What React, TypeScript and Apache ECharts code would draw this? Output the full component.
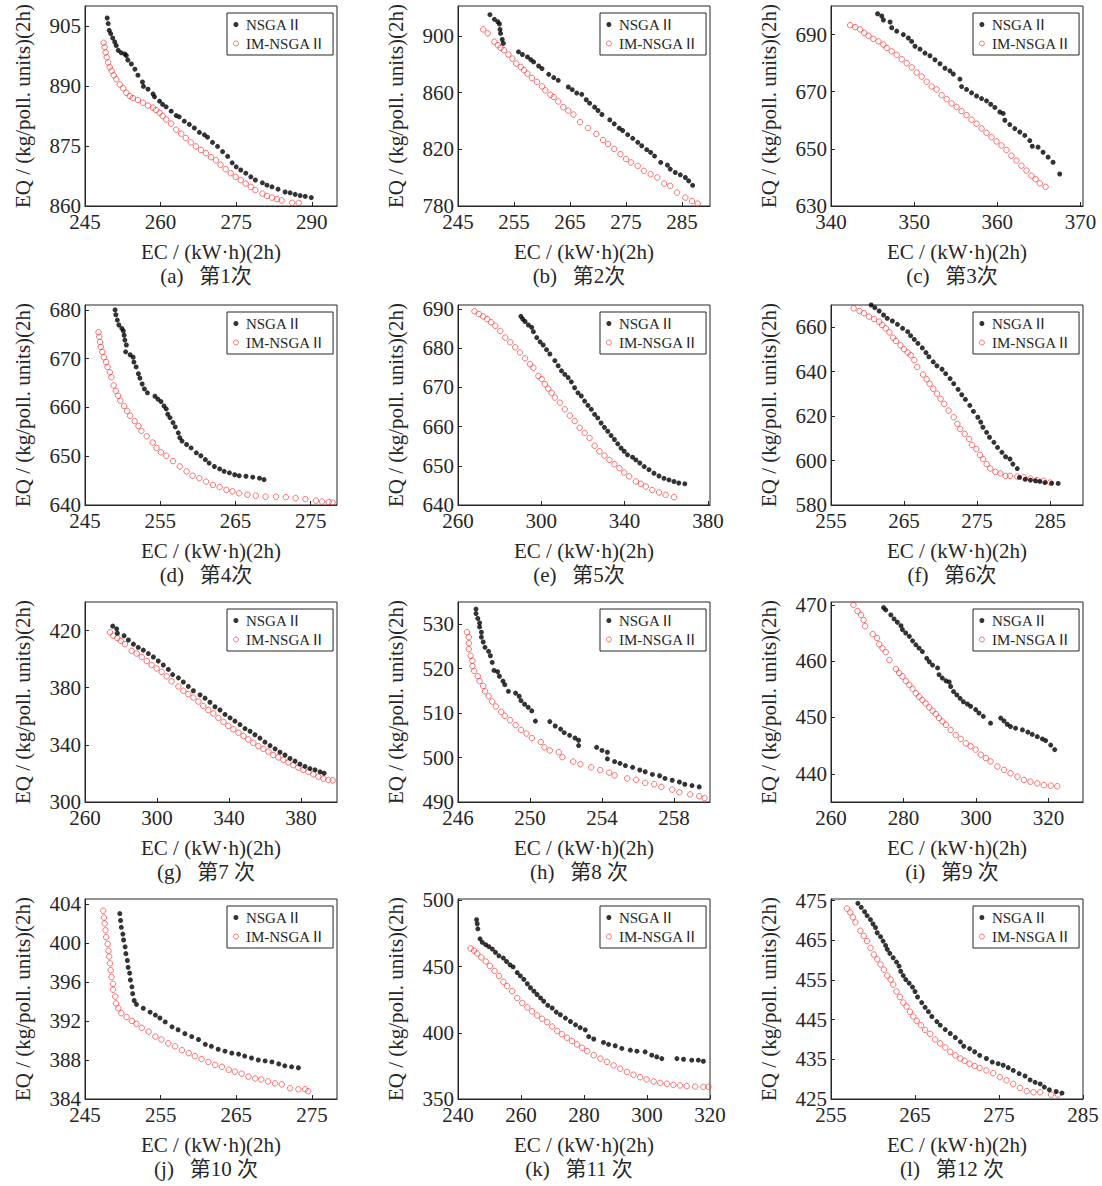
import React, { useEffect, useRef } from 'react';
import * as echarts from 'echarts';

// ---------- data (EC, EQ) ----------
const A_NSGA = [[249.4,907.0],[249.6,905.6],[249.8,903.9],[250.1,903.1],[250.5,902.0],[250.9,901.0],[251.2,900.1],[251.6,898.9],[252.2,898.3],[252.9,898.0],[253.2,897.6],[253.5,896.5],[254.2,895.5],[254.9,894.2],[255.5,892.7],[256.4,891.0],[256.6,889.9],[257.5,889.2],[258.5,888.0],[258.8,887.3],[259.8,886.2],[260.4,885.4],[261.1,884.8],[262.1,883.7],[263.1,882.6],[263.7,882.3],[264.7,881.2],[265.7,880.4],[266.7,879.5],[267.7,878.4],[268.7,877.8],[269.3,877.2],[270.3,875.9],[271.3,874.9],[272.3,873.6],[273.3,872.4],[274.2,870.8],[275.0,869.8],[275.9,869.0],[276.9,868.2],[277.9,867.3],[278.8,866.5],[280.2,865.8],[281.1,865.2],[282.1,864.8],[283.3,864.2],[284.7,863.5],[285.7,863.3],[286.7,862.9],[287.7,862.6],[288.7,862.4],[289.9,862.1]];
const A_IM = [[248.7,900.8],[248.9,899.7],[249.1,898.4],[249.3,897.2],[249.6,895.9],[249.9,894.7],[250.3,893.8],[250.7,892.7],[251.2,891.7],[251.9,890.4],[252.6,889.4],[253.2,888.3],[253.9,887.5],[254.5,887.0],[255.5,886.5],[256.5,885.8],[257.5,885.1],[258.5,884.6],[259.1,884.0],[259.8,883.3],[260.4,882.5],[261.1,881.6],[262.1,880.6],[263.1,879.1],[264.1,878.1],[265.0,877.0],[266.0,875.9],[267.0,874.9],[268.0,874.0],[269.0,873.2],[270.0,872.2],[271.0,871.4],[271.9,870.3],[272.9,869.2],[273.9,868.2],[274.9,867.3],[275.9,866.5],[276.9,865.6],[277.9,864.8],[278.8,864.0],[280.2,863.1],[281.1,862.5],[282.1,862.1],[283.1,861.7],[284.0,861.4],[286.1,860.8],[287.4,860.8]];

const B_NSGA = [[250.7,914.9],[251.5,911.6],[252.1,909.9],[252.4,908.3],[252.5,904.5],[252.6,901.7],[252.9,897.4],[253.1,894.6],[255.8,888.7],[256.5,886.8],[257.4,885.1],[258.0,883.2],[258.5,881.6],[259.4,878.7],[260.0,876.9],[261.2,872.8],[262.1,870.5],[262.9,868.6],[264.7,863.9],[265.4,862.0],[266.2,859.6],[267.1,858.7],[267.9,854.9],[268.5,852.5],[269.4,849.7],[270.0,847.3],[270.7,844.5],[272.1,840.7],[272.9,837.9],[273.8,834.8],[274.4,833.2],[275.3,830.3],[276.2,827.7],[277.1,824.9],[277.8,822.5],[278.7,819.7],[279.4,817.8],[280.1,815.2],[281.2,810.7],[282.4,808.8],[282.9,806.0],[283.8,803.6],[284.7,802.0],[285.6,800.1],[286.2,797.7],[286.9,794.6]];
const B_IM = [[249.5,904.5],[250.3,901.7],[251.5,895.8],[252.1,893.4],[252.6,891.5],[253.2,889.9],[254.0,886.8],[254.7,883.9],[255.4,880.4],[256.2,878.0],[256.8,875.7],[257.4,873.3],[258.2,870.2],[259.1,867.4],[260.0,864.3],[260.6,861.5],[261.5,858.4],[262.1,856.8],[262.9,853.7],[263.8,849.7],[264.7,847.3],[265.6,844.5],[266.8,839.1],[268.2,835.0],[269.7,830.8],[270.9,826.5],[271.8,823.7],[272.9,820.2],[274.0,816.6],[275.0,813.1],[275.9,810.7],[277.1,808.3],[278.2,804.8],[279.4,802.4],[280.6,800.1],[281.8,795.8],[282.9,794.2],[284.1,789.4],[285.6,785.9],[286.8,783.5],[287.8,781.7]];

const C_NSGA = [[345.6,697.3],[346.1,696.5],[346.3,695.1],[347.1,694.4],[347.3,692.4],[347.9,691.2],[348.7,690.0],[349.3,688.8],[349.7,687.6],[350.1,685.9],[350.7,684.9],[351.3,683.5],[351.9,682.6],[352.5,681.2],[353.1,679.8],[353.7,678.2],[354.3,677.3],[354.7,676.2],[355.5,674.4],[355.7,671.8],[356.3,670.8],[356.9,669.6],[357.5,668.5],[358.1,667.6],[358.7,666.8],[359.2,665.6],[359.7,664.5],[360.3,662.9],[360.7,662.4],[360.9,660.0],[361.5,658.5],[362.1,657.1],[362.7,655.9],[363.3,654.7],[363.9,652.9],[364.2,650.9],[364.9,650.6],[365.5,648.8],[366.1,647.1],[366.7,645.3],[367.5,641.2]];
const C_IM = [[342.3,693.3],[342.9,692.6],[343.5,691.8],[344.0,690.6],[344.5,689.6],[345.1,688.5],[345.7,687.6],[346.3,686.5],[346.7,685.3],[347.3,684.1],[347.9,682.9],[348.5,681.4],[349.1,680.0],[349.7,678.5],[350.3,676.7],[350.9,675.3],[351.5,673.5],[352.1,671.8],[352.7,670.8],[353.3,668.8],[353.9,667.4],[354.5,665.9],[355.1,664.7],[355.7,663.2],[356.3,661.8],[356.9,660.2],[357.5,658.8],[358.1,657.1],[358.7,655.6],[359.3,654.1],[359.9,652.6],[360.5,651.2],[361.1,649.6],[361.7,647.6],[362.3,645.9],[362.9,644.1],[363.5,642.4],[364.1,640.6],[364.6,639.4],[365.1,637.9],[365.8,636.7]];

const D_NSGA = [[249.0,680.0],[249.1,679.0],[249.3,677.9],[249.5,676.9],[249.9,676.2],[250.1,675.7],[250.2,674.8],[250.3,673.8],[250.5,672.8],[250.4,671.4],[251.0,670.8],[251.4,670.3],[251.5,669.3],[251.8,668.3],[252.1,666.9],[252.3,666.0],[252.6,664.8],[252.9,663.8],[253.3,663.0],[254.3,662.3],[254.7,661.7],[255.1,661.2],[255.5,660.3],[255.8,659.7],[256.0,658.6],[256.3,657.9],[256.7,656.9],[257.0,656.0],[257.4,654.8],[257.6,653.8],[257.9,653.1],[258.5,652.4],[259.1,651.7],[259.8,650.7],[260.4,650.1],[261.0,649.3],[261.5,648.6],[262.2,647.9],[262.9,647.4],[263.5,646.9],[264.2,646.6],[264.9,646.2],[265.5,646.0],[266.4,645.9],[267.3,645.7],[268.2,645.5],[268.8,645.2]];
const D_IM = [[246.8,675.4],[246.9,674.5],[247.0,673.4],[247.1,672.4],[247.3,671.4],[247.5,670.3],[247.8,669.3],[248.0,668.3],[248.3,667.2],[248.5,666.2],[248.8,664.5],[249.1,663.4],[249.4,662.4],[249.7,661.4],[250.2,660.3],[250.6,659.3],[251.0,658.3],[251.6,657.2],[252.1,656.2],[252.5,655.2],[253.2,654.1],[254.0,652.8],[254.5,651.7],[255.1,650.8],[255.8,650.1],[256.7,649.0],[257.6,647.9],[258.5,646.9],[259.3,646.0],[260.2,645.5],[261.1,644.8],[262.0,644.1],[262.9,643.7],[263.8,643.1],[264.6,642.8],[265.5,642.4],[266.6,642.1],[267.7,641.9],[269.0,641.7],[270.4,641.7],[271.7,641.6],[273.0,641.4],[274.3,641.2],[275.7,640.9],[276.5,640.7],[277.4,640.6],[277.9,640.5]];

const E_NSGA = [[290.2,688.1],[291.1,687.4],[292.2,686.8],[293.8,685.9],[295.4,685.3],[296.2,684.2],[297.8,682.7],[299.4,681.6],[300.9,680.8],[302.5,679.6],[304.1,678.5],[306.5,676.8],[308.1,675.5],[309.7,674.2],[311.3,673.3],[312.9,672.5],[314.4,671.4],[316.0,669.9],[317.6,668.6],[319.2,667.8],[320.8,666.5],[322.4,665.4],[324.0,664.4],[325.6,663.1],[327.1,662.2],[328.7,660.9],[330.3,659.8],[331.9,658.8],[333.5,657.7],[335.1,656.7],[336.7,655.6],[338.3,654.5],[339.8,653.7],[341.4,652.8],[343.8,652.2],[345.4,651.5],[347.3,650.7],[349.4,649.8],[351.7,649.0],[354.1,648.1],[356.5,647.4],[358.9,646.8],[361.3,646.4],[363.7,646.0],[366.0,645.6],[368.9,645.4]];
const E_IM = [[267.9,689.4],[270.0,688.7],[272.1,688.1],[274.0,687.4],[275.9,686.6],[277.9,685.7],[280.3,684.4],[282.7,682.7],[285.1,681.5],[287.5,680.2],[289.8,678.9],[292.2,677.4],[294.6,675.9],[296.2,675.0],[298.6,672.9],[300.2,672.1],[301.7,670.8],[303.3,669.7],[304.9,668.6],[306.5,667.4],[308.9,666.1],[311.3,664.4],[313.7,662.8],[316.0,661.4],[318.4,659.7],[320.8,658.4],[323.2,657.1],[325.6,655.1],[327.9,653.7],[330.3,652.6],[332.7,651.5],[335.1,650.4],[337.5,649.4],[339.8,648.3],[342.2,647.3],[345.4,646.0],[347.8,645.4],[350.2,644.7],[353.3,643.8],[356.5,643.2],[359.7,642.6],[363.7,642.0]];

const F_NSGA = [[260.5,670.0],[261.0,668.8],[261.6,667.3],[262.2,665.5],[262.7,664.0],[263.4,662.8],[264.1,661.3],[264.8,659.5],[265.5,658.0],[265.9,656.2],[266.4,654.5],[266.9,652.7],[267.5,650.7],[268.0,648.6],[268.4,646.7],[269.0,644.4],[269.5,642.6],[270.2,641.1],[270.7,639.1],[271.3,636.9],[271.8,634.6],[272.4,632.0],[272.9,629.6],[273.4,627.5],[274.0,624.8],[274.5,622.1],[275.1,619.5],[275.5,617.3],[275.8,615.0],[276.3,612.7],[276.7,610.5],[277.3,608.2],[277.8,605.9],[278.4,603.7],[278.9,601.7],[279.5,600.7],[279.9,598.4],[280.5,596.4],[280.8,592.4],[281.6,591.6],[282.3,591.2],[283.0,590.9],[283.6,590.6],[284.3,590.1],[285.2,589.8],[286.1,589.7]];
const F_IM = [[258.1,668.5],[258.9,667.3],[259.5,666.3],[260.2,664.8],[260.9,663.7],[261.6,662.5],[262.0,661.0],[262.5,659.5],[263.0,657.7],[263.5,655.3],[263.9,653.8],[264.5,651.9],[265.0,650.1],[265.5,648.6],[265.9,647.4],[266.4,645.2],[266.8,642.1],[267.6,638.7],[268.1,636.6],[268.5,634.6],[269.0,632.3],[269.5,630.1],[270.0,627.8],[270.5,625.5],[271.1,622.5],[271.8,619.5],[272.3,616.5],[272.7,614.2],[273.3,612.0],[273.9,609.7],[274.3,607.0],[274.9,605.2],[275.4,602.5],[275.8,600.7],[276.3,598.4],[276.8,596.4],[277.5,594.9],[278.2,594.2],[278.9,593.1],[279.5,593.1],[280.5,592.8],[281.4,592.4],[282.3,591.9],[283.2,591.2],[284.1,590.9],[285.0,590.1]];

const G_NSGA = [[275.4,423.1],[277.6,421.2],[278.0,418.1],[281.7,416.4],[284.1,413.4],[286.9,410.5],[289.6,408.2],[292.4,406.3],[295.2,403.9],[298.0,401.5],[300.7,398.7],[303.5,395.9],[306.3,392.8],[308.7,389.2],[311.9,386.9],[314.6,384.0],[317.4,380.9],[320.2,377.9],[323.9,375.0],[326.7,372.7],[329.4,369.8],[332.2,366.7],[335.0,364.4],[337.8,361.3],[340.6,358.9],[343.3,356.6],[346.1,354.2],[348.9,351.4],[351.7,349.5],[354.4,347.1],[357.2,344.7],[360.0,341.9],[362.8,339.5],[365.6,337.2],[368.3,334.8],[371.1,332.9],[373.9,330.5],[376.7,328.6],[379.4,326.5],[382.2,324.9],[385.0,323.4],[387.8,322.5],[390.6,321.1],[392.8,320.1]];
const G_IM = [[273.9,418.8],[275.7,416.4],[278.0,414.8],[279.8,412.9],[282.2,410.5],[285.9,405.8],[288.7,403.9],[291.5,401.5],[294.3,398.7],[297.0,395.9],[299.8,393.5],[302.6,391.1],[305.4,388.0],[308.1,384.5],[311.9,380.9],[314.6,377.9],[317.4,375.5],[320.2,373.1],[323.0,370.3],[325.7,367.2],[328.5,364.4],[331.3,362.0],[334.1,358.9],[336.9,356.1],[339.6,353.3],[342.4,350.9],[345.2,348.5],[348.0,346.2],[350.7,343.8],[353.5,341.4],[356.3,339.1],[359.1,337.2],[361.9,335.3],[364.6,332.9],[367.4,331.2],[370.2,329.6],[373.0,327.7],[375.7,325.8],[378.5,324.1],[381.3,322.5],[384.1,321.1],[386.9,319.4],[389.6,317.8],[392.4,316.3],[395.2,315.4],[397.6,315.1]];

const H_NSGA = [[247.0,533.4],[247.0,532.4],[247.1,531.3],[247.2,530.3],[247.2,529.4],[247.3,528.2],[247.3,527.1],[247.4,526.0],[247.5,524.8],[247.7,523.9],[247.8,522.9],[247.9,521.4],[248.0,519.6],[248.2,519.3],[248.3,518.3],[248.5,517.2],[248.6,516.4],[248.8,514.9],[249.2,514.5],[249.4,513.8],[249.5,512.8],[249.7,512.0],[249.9,511.3],[250.1,510.5],[250.3,508.2],[251.1,508.1],[251.4,507.1],[251.7,506.4],[251.9,505.6],[252.2,505.0],[252.5,504.4],[252.7,503.9],[252.7,502.7],[253.7,502.3],[254.0,501.6],[254.3,501.2],[254.3,499.7],[254.7,499.1],[255.0,498.7],[255.3,498.2],[255.7,497.8],[256.1,497.2],[256.4,496.8],[256.8,496.2],[257.2,495.9],[257.5,495.3],[257.9,494.9],[258.3,494.5],[258.6,494.0],[259.0,493.7],[259.4,493.4]];
const H_IM = [[246.5,528.2],[246.6,527.1],[246.6,525.7],[246.6,524.4],[246.7,522.9],[246.8,521.8],[246.8,520.6],[246.9,519.5],[247.1,518.3],[247.2,517.2],[247.4,516.1],[247.5,514.9],[247.7,513.8],[247.9,512.6],[248.1,511.5],[248.4,510.3],[248.6,509.4],[248.9,508.4],[249.2,507.3],[249.5,506.2],[249.8,505.4],[250.1,504.4],[250.6,503.5],[250.8,502.3],[251.1,501.6],[251.6,501.2],[251.8,500.1],[252.4,499.1],[252.8,498.5],[253.4,497.8],[253.9,497.2],[254.4,496.6],[254.7,496.0],[255.4,495.3],[255.9,495.0],[256.4,494.3],[256.9,494.0],[257.3,493.4],[257.9,492.8],[258.3,492.2],[258.9,491.7],[259.4,491.3],[259.7,490.9]];

const I_NSGA = [[274.5,469.5],[275.1,469.1],[276.5,468.2],[277.4,467.5],[278.3,466.9],[279.3,466.3],[279.7,465.6],[280.6,465.0],[281.6,464.4],[282.5,463.6],[283.4,462.9],[284.3,462.3],[285.2,461.7],[286.4,460.5],[287.1,459.9],[288.0,459.3],[289.4,458.8],[289.8,457.6],[290.7,457.0],[291.7,456.5],[292.6,456.3],[293.0,455.5],[293.8,454.6],[294.7,454.0],[295.6,453.4],[296.5,452.8],[297.6,452.4],[298.5,452.0],[299.9,451.4],[300.8,450.8],[302.0,450.2],[304.0,449.0],[306.8,449.9],[307.7,449.4],[308.6,448.8],[309.5,448.4],[310.9,448.1],[312.8,447.8],[314.3,447.4],[315.5,447.0],[316.9,446.6],[318.3,446.2],[319.2,445.9],[320.6,445.1],[321.7,444.3]];
const I_IM = [[266.2,470.0],[267.3,468.9],[268.3,468.2],[269.0,467.3],[269.4,466.2],[271.5,464.8],[272.7,464.1],[273.3,463.0],[274.2,462.3],[275.1,461.6],[276.1,460.2],[277.9,458.6],[278.8,457.9],[279.7,457.3],[280.6,456.5],[281.6,455.8],[282.5,455.1],[283.4,454.3],[284.3,453.7],[285.2,453.1],[286.1,452.5],[287.1,451.8],[288.0,451.2],[288.9,450.6],[289.8,449.9],[290.7,449.3],[291.7,448.7],[293.0,447.8],[294.4,446.9],[295.8,446.2],[297.2,445.4],[298.5,444.9],[299.9,444.3],[301.3,443.4],[302.7,442.8],[304.0,442.2],[305.9,441.3],[307.7,440.7],[309.5,440.1],[311.4,439.5],[313.2,438.9],[315.0,438.6],[316.9,438.3],[318.7,438.0],[320.6,437.9],[322.4,437.8]];

const J_NSGA = [[249.6,403.0],[249.7,402.3],[249.8,401.6],[250.0,400.9],[250.1,400.3],[250.3,399.6],[250.4,398.9],[250.6,398.2],[250.7,397.5],[250.9,396.9],[251.0,396.2],[251.2,395.5],[251.3,394.8],[251.5,394.1],[251.8,393.7],[252.7,393.3],[253.6,392.9],[254.3,392.6],[254.9,392.3],[255.6,391.9],[256.5,391.4],[257.3,391.1],[258.2,390.7],[259.1,390.4],[260.0,390.1],[260.9,389.6],[261.7,389.4],[262.6,389.1],[263.5,388.9],[264.4,388.7],[265.3,388.6],[266.1,388.4],[267.0,388.2],[267.9,388.0],[268.8,387.9],[269.7,387.8],[270.6,387.6],[271.4,387.4],[272.3,387.3],[273.2,387.2]];
const J_IM = [[247.4,403.3],[247.5,402.6],[247.6,402.0],[247.7,401.3],[247.8,400.6],[248.0,399.9],[248.1,399.2],[248.2,398.6],[248.3,397.9],[248.4,397.2],[248.5,396.5],[248.7,395.8],[248.7,395.2],[249.0,394.5],[249.1,393.8],[249.4,393.3],[249.8,392.8],[250.5,392.4],[251.2,392.0],[251.8,391.7],[252.5,391.3],[253.4,390.9],[254.3,390.4],[255.1,390.1],[256.0,389.7],[256.9,389.4],[257.8,389.0],[258.7,388.7],[259.5,388.4],[260.4,388.1],[261.3,387.8],[262.2,387.5],[263.1,387.3],[264.0,387.0],[264.8,386.8],[265.7,386.6],[266.6,386.3],[267.5,386.1],[268.3,386.0],[269.2,385.8],[270.1,385.6],[271.0,385.5],[272.1,385.1],[273.2,385.0],[274.1,385.0],[274.5,384.8]];

const K_NSGA = [[245.9,485.4],[246.1,482.3],[246.3,478.5],[247.0,470.9],[247.7,468.3],[248.8,466.5],[249.8,465.0],[250.9,463.2],[251.9,460.7],[253.0,458.1],[254.4,456.4],[255.4,453.8],[256.5,451.3],[257.5,449.7],[258.8,445.4],[259.8,442.9],[260.9,440.3],[262.0,437.0],[263.0,434.0],[264.1,431.4],[265.1,428.9],[266.2,426.3],[267.2,423.8],[268.5,420.7],[269.9,418.7],[271.2,415.6],[272.5,413.6],[274.1,411.1],[275.7,408.5],[277.3,406.0],[278.8,403.9],[280.4,402.2],[281.5,397.1],[283.1,395.3],[286.2,392.7],[287.8,391.2],[289.9,390.2],[292.0,388.2],[294.7,386.9],[296.8,386.1],[299.4,385.6],[301.5,383.1],[303.1,381.8],[304.7,380.5],[309.5,380.5],[311.6,380.0],[314.2,379.3],[316.3,379.3],[317.9,378.5]];
const K_IM = [[244.0,463.7],[245.1,462.0],[246.1,459.9],[247.4,456.9],[248.8,453.8],[250.1,450.5],[251.6,446.7],[253.0,442.9],[254.4,438.5],[255.6,435.2],[257.2,431.4],[258.8,426.3],[260.4,422.5],[262.0,419.2],[263.5,416.2],[265.1,413.1],[266.7,410.6],[268.3,408.0],[269.9,404.7],[271.5,401.4],[273.0,398.9],[274.6,396.3],[276.2,393.8],[277.8,391.2],[279.4,388.7],[281.0,386.1],[283.1,383.1],[285.2,380.5],[287.3,378.0],[289.4,375.4],[291.5,372.9],[293.6,370.4],[295.7,368.3],[297.8,366.5],[299.9,364.8],[302.1,363.2],[304.2,362.2],[306.3,361.5],[308.4,360.7],[310.5,360.2],[312.6,359.7],[315.3,359.4],[317.9,359.2],[319.5,359.2]];

const L_NSGA = [[258.2,474.3],[258.6,473.3],[259.0,472.2],[259.3,471.2],[259.7,470.2],[260.0,469.1],[260.3,468.2],[260.5,466.9],[260.9,465.9],[261.2,464.8],[261.5,463.7],[261.7,462.7],[262.0,461.7],[262.4,460.6],[262.8,459.5],[263.1,458.5],[263.3,457.2],[263.6,456.1],[263.9,455.1],[264.3,454.2],[264.7,453.2],[265.0,452.1],[265.3,450.7],[265.8,449.3],[266.2,448.1],[266.6,447.0],[267.0,445.8],[267.6,444.5],[268.0,443.6],[268.6,442.5],[269.2,441.5],[269.8,440.5],[270.4,439.4],[270.8,438.3],[271.5,437.7],[272.1,436.9],[272.7,436.0],[273.5,435.2],[274.2,434.3],[274.9,433.9],[275.5,433.5],[276.1,432.9],[276.7,432.2],[277.4,431.4],[278.1,430.8],[278.7,429.8],[279.3,429.2],[279.9,428.8],[280.4,428.0],[281.0,427.3],[281.8,426.9],[282.5,426.5]];
const L_IM = [[256.9,473.0],[257.3,472.0],[257.6,470.8],[257.9,469.5],[258.5,467.4],[258.9,466.1],[259.3,464.8],[259.7,463.1],[260.1,461.4],[260.5,460.2],[260.9,458.9],[261.3,457.6],[261.7,456.1],[262.1,455.1],[262.4,453.8],[262.8,452.1],[263.2,450.7],[263.6,449.3],[264.0,448.3],[264.4,447.0],[264.8,445.8],[265.2,444.7],[265.7,443.6],[266.2,442.4],[266.8,441.4],[267.4,440.0],[268.0,439.0],[268.6,438.0],[269.2,436.9],[269.8,436.0],[270.4,435.2],[270.9,434.6],[271.5,433.9],[272.1,433.3],[272.7,432.8],[273.5,432.2],[274.3,431.5],[275.1,430.5],[275.9,429.7],[276.7,428.8],[277.5,427.8],[278.3,427.0],[279.1,426.7],[279.9,426.7],[281.2,426.1],[282.0,426.1]];

const NSGA_SETS = [A_NSGA, B_NSGA, C_NSGA, D_NSGA, E_NSGA, F_NSGA, G_NSGA, H_NSGA, I_NSGA, J_NSGA, K_NSGA, L_NSGA];
const IM_SETS = [A_IM, B_IM, C_IM, D_IM, E_IM, F_IM, G_IM, H_IM, I_IM, J_IM, K_IM, L_IM];

const SERIES_NAMES = ['NSGAⅡ', 'IM-NSGAⅡ'];
const X_NAME = 'EC / (kW·h)(2h)';
const Y_NAME = 'EQ / (kg/poll. units)(2h)';
const GAP = '\u00a0\u00a0\u00a0';
const CAPTIONS = ['(a)' + GAP + '第1次', '(b)' + GAP + '第2次', '(c)' + GAP + '第3次', '(d)' + GAP + '第4次',
  '(e)' + GAP + '第5次', '(f)' + GAP + '第6次', '(g)' + GAP + '第7\u00a0次', '(h)' + GAP + '第8\u00a0次',
  '(i)' + GAP + '第9\u00a0次', '(j)' + GAP + '第10\u00a0次', '(k)' + GAP + '第11\u00a0次', '(l)' + GAP + '第12\u00a0次'];

const X_LIMITS = [[245, 295], [245, 290], [340, 370.3], [245, 278.5], [260, 381], [255, 289.5],
  [260, 400], [246, 260], [260, 329.5], [245, 278.3], [240, 320], [255, 285]];
const X_TICKS = [[245, 260, 275, 290], [245, 255, 265, 275, 285], [340, 350, 360, 370], [245, 255, 265, 275],
  [260, 300, 340, 380], [255, 265, 275, 285], [260, 300, 340, 380], [246, 250, 254, 258],
  [260, 280, 300, 320], [245, 255, 265, 275], [240, 260, 280, 300, 320], [255, 265, 275, 285]];
const Y_LIMITS = [[860, 910], [780, 921], [630, 700], [640, 681], [640, 691], [580, 670],
  [300, 440], [490, 535], [435, 470.5], [384, 404.5], [350, 501], [425, 475.4]];
const Y_TICKS = [[860, 875, 890, 905], [780, 820, 860, 900], [630, 650, 670, 690], [640, 650, 660, 670, 680],
  [640, 650, 660, 670, 680, 690], [580, 600, 620, 640, 660], [300, 340, 380, 420], [490, 500, 510, 520, 530],
  [440, 450, 460, 470], [384, 388, 392, 396, 400, 404], [350, 400, 450, 500], [425, 435, 445, 455, 465, 475]];

// ---------- layout / style ----------
const COL_LEFT = [85, 458, 831];
const ROW_TOP = [6, 305, 602, 899];
const GRID_W = 252;
const GRID_H = 200;
const FONT = "'Liberation Serif', 'Times New Roman', 'Noto Sans CJK SC', serif";
const AXIS_COLOR = '#262626';
const RED = '#f52222';

function buildOption() {
  const grid: any[] = [];
  const xAxis: any[] = [];
  const yAxis: any[] = [];
  const series: any[] = [];
  const legend: any[] = [];
  const graphic: any[] = [];
  for (let i = 0; i < 12; i++) {
    const col = i % 3;
    const row = Math.floor(i / 3);
    const left = COL_LEFT[col];
    const top = ROW_TOP[row];
    grid.push({ left, top, width: GRID_W, height: GRID_H, show: true, borderColor: AXIS_COLOR, borderWidth: 1, containLabel: false });
    const textStyle = { color: AXIS_COLOR, fontFamily: FONT, fontSize: 21 };
    xAxis.push({
      type: 'value', gridIndex: i, min: X_LIMITS[i][0], max: X_LIMITS[i][1],
      axisLine: { show: true, onZero: false, lineStyle: { color: AXIS_COLOR, width: 1 } },
      axisTick: { show: true, inside: true, length: 4, customValues: X_TICKS[i], lineStyle: { color: AXIS_COLOR } },
      axisLabel: { customValues: X_TICKS[i], margin: 9, lineHeight: 14, ...textStyle },
      splitLine: { show: false },
      name: X_NAME, nameLocation: 'middle', nameGap: 35, nameTextStyle: textStyle,
    });
    yAxis.push({
      type: 'value', gridIndex: i, min: Y_LIMITS[i][0], max: Y_LIMITS[i][1],
      axisLine: { show: true, onZero: false, lineStyle: { color: AXIS_COLOR, width: 1 } },
      axisTick: { show: true, inside: true, length: 4, customValues: Y_TICKS[i], lineStyle: { color: AXIS_COLOR } },
      axisLabel: { customValues: Y_TICKS[i], margin: 4, lineHeight: 14, ...textStyle },
      splitLine: { show: false },
      name: Y_NAME, nameLocation: 'middle', nameGap: 52, nameTextStyle: textStyle,
    });
    series.push({
      name: SERIES_NAMES[1], type: 'scatter', xAxisIndex: i, yAxisIndex: i,
      data: IM_SETS[i], symbol: 'circle', symbolSize: 5.5,
      itemStyle: { color: 'rgba(255,255,255,0)', borderColor: RED, borderWidth: 0.8 },
      emphasis: { disabled: true }, z: 2,
    });
    series.push({
      name: SERIES_NAMES[0], type: 'scatter', xAxisIndex: i, yAxisIndex: i,
      data: NSGA_SETS[i], symbol: 'circle', symbolSize: 5,
      itemStyle: { color: '#000' },
      emphasis: { disabled: true }, z: 3,
    });
    legend.push({
      left: left + GRID_W - 6 - 104, top: top + 7, orient: 'vertical',
      width: 104,
      backgroundColor: '#fff', borderColor: AXIS_COLOR, borderWidth: 1,
      padding: [4, 8, 4, 6], itemGap: 4, itemWidth: 10, itemHeight: 5,
      selectedMode: false,
      textStyle: { fontFamily: FONT, fontSize: 15, color: AXIS_COLOR, padding: [0, 0, 0, 0] },
      data: [
        { name: SERIES_NAMES[0], icon: 'circle', itemStyle: { color: '#000', borderWidth: 0 } },
        { name: SERIES_NAMES[1], icon: 'circle', itemStyle: { color: 'rgba(255,255,255,0)', borderColor: RED, borderWidth: 0.8 } },
      ],
    });
    graphic.push({
      type: 'text', x: left + GRID_W / 2 - 5, y: top + GRID_H + 70,
      style: { text: CAPTIONS[i], fontFamily: FONT, fontSize: 21, fill: AXIS_COLOR, align: 'center', verticalAlign: 'middle' },
    });
  }
  return { animation: false, backgroundColor: '#fff', grid, xAxis, yAxis, series, legend, graphic };
}

export default function App() {
  const ref = useRef<HTMLDivElement>(null);
  useEffect(() => {
    if (!ref.current) return;
    const chart = echarts.init(ref.current, undefined, { renderer: 'svg' });
    chart.setOption(buildOption() as any);
    return () => chart.dispose();
  }, []);
  return <div ref={ref} style={{ position: 'absolute', left: 0, top: 0, width: 1102, height: 1186, background: '#fff' }} />;
}
